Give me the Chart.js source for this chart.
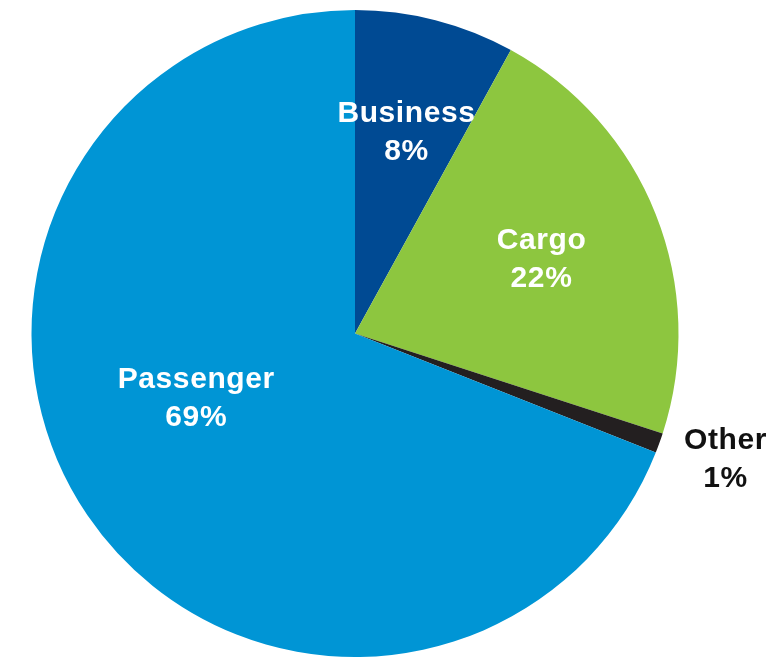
<!DOCTYPE html>
<html>
<head>
<meta charset="utf-8">
<style>
  html, body { margin: 0; padding: 0; background: #ffffff; }
  #wrap { width: 780px; height: 659px; }
</style>
<script src="https://cdn.jsdelivr.net/npm/chart.js@4/dist/chart.umd.min.js"></script>
</head>
<body>
<div id="wrap"><canvas id="pie" width="780" height="659"></canvas></div>
<script>
// Revenue share by segment (percent)
const categories = ['Business', 'Cargo', 'Other', 'Passenger'];
const shares = [8, 22, 1, 69];
const sliceColors = ['#004a93', '#8dc63f', '#231f20', '#0095d5'];

// Label placement per slice: radius as a fraction of the pie radius,
// optional angle shift (degrees), text colour
const labelStyle = [
  { r: 0.64, shift: 0, color: '#ffffff' },
  { r: 0.62, shift: 0, color: '#ffffff' },
  { r: 1.21, shift: -1, color: '#111111' },
  { r: 0.53, shift: 12, color: '#ffffff' }
];

const sliceLabels = {
  id: 'sliceLabels',
  afterDatasetsDraw(chart) {
    const ctx = chart.ctx;
    const meta = chart.getDatasetMeta(0);
    ctx.save();
    ctx.font = 'bold 30px "Liberation Sans", Arial, sans-serif';
    if ('letterSpacing' in ctx) ctx.letterSpacing = '0.6px';
    ctx.textAlign = 'center';
    ctx.textBaseline = 'middle';
    meta.data.forEach((arc, i) => {
      const p = arc.getProps(['x', 'y', 'startAngle', 'endAngle', 'outerRadius'], true);
      const st = labelStyle[i];
      const mid = (p.startAngle + p.endAngle) / 2 + st.shift * Math.PI / 180;
      const rr = p.outerRadius * st.r;
      const cx = p.x + Math.cos(mid) * rr;
      const cy = p.y + Math.sin(mid) * rr;
      ctx.fillStyle = st.color;
      ctx.fillText(categories[i], cx, cy - 19);
      ctx.fillText(shares[i] + '%', cx, cy + 19);
    });
    ctx.restore();
  }
};

new Chart(document.getElementById('pie'), {
  type: 'pie',
  data: {
    labels: categories,
    datasets: [{
      data: shares,
      backgroundColor: sliceColors,
      borderWidth: 0
    }]
  },
  options: {
    responsive: false,
    animation: false,
    layout: { padding: { left: 31, right: 101, top: 10, bottom: 2 } },
    plugins: {
      legend: { display: false },
      tooltip: { enabled: false }
    }
  },
  plugins: [sliceLabels]
});
</script>
</body>
</html>
